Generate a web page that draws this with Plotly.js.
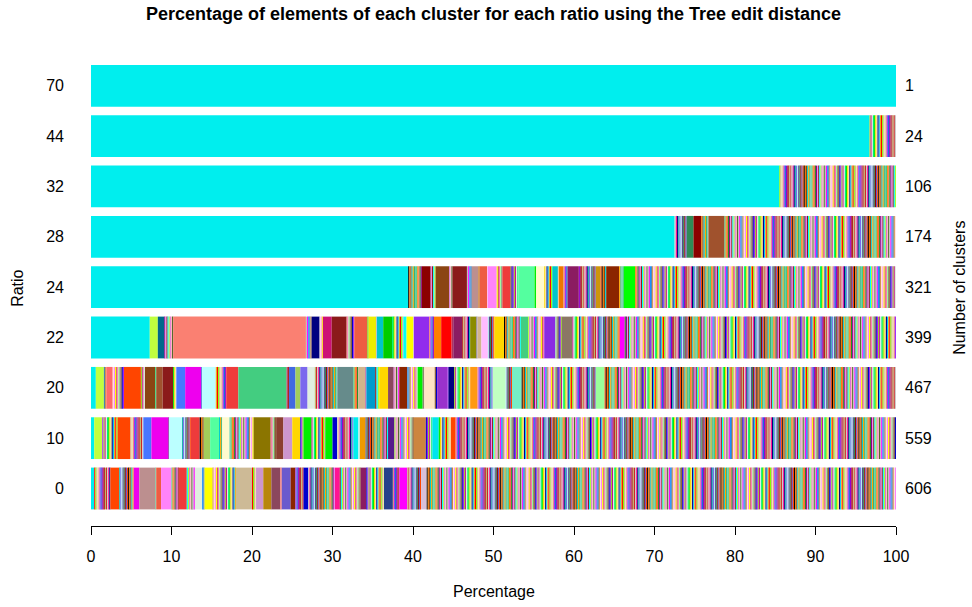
<!DOCTYPE html>
<html>
<head>
<meta charset="utf-8">
<script src="https://cdn.plot.ly/plotly-3.0.1.min.js"></script>
<style>html,body{margin:0;padding:0;background:#fff;}#chart{width:972px;height:607px;}</style>
</head>
<body>
<div id="chart"></div>
<script>
// ---------------- DATA ----------------
const ratios = ["0", "10", "20", "22", "24", "28", "32", "44", "70"];
const clusterCounts = [606, 559, 467, 399, 321, 174, 106, 24, 1];

// Large, readable clusters of each bar: [start %, end %]. The remaining clusters of a bar
// (clusterCounts minus these) are the thin slivers filling the gaps between them.
const big0 = [[0,0.4],[2.4,3.5],[5.3,6.0],[6.0,8.0],[8.1,8.7],[8.7,10.0],[10.9,11.9],[12.9,13.8],[14.1,15.1],[18.0,20.0],[20.5,21.4],[21.4,22.4],[22.4,23.5],[23.7,24.8],[24.8,25.4],[26.4,27.0],[30.3,30.9],[33.5,34.2],[36.4,37.5],[38.3,39.3],[41.0,41.7]];
const big10 = [[0,0.4],[0.4,1.4],[3.3,4.9],[6.5,7.5],[7.5,9.6],[9.7,11.3],[12.4,13.5],[14.0,14.8],[14.8,15.9],[16.3,17.2],[20.2,22.3],[23.0,23.9],[23.9,25.0],[25.0,26.0],[26.4,27.4],[29.1,30.0],[30.0,30.6],[32.6,33.2],[33.4,34.1],[36.9,37.7],[40.1,41.6],[42.4,43.2],[44.7,45.3]];
const big20 = [[0,0.6],[0.6,1.6],[1.9,2.7],[4.1,6.2],[6.7,8.0],[8.1,8.9],[8.9,10.2],[10.6,11.7],[11.7,13.7],[13.8,15.5],[16.8,18.3],[18.3,24.3],[24.6,25.4],[25.4,26.0],[26.0,26.9],[26.9,27.8],[30.6,32.6],[33.2,34.1],[34.2,35.3],[35.8,36.9],[36.9,37.6],[38.3,39.3],[40.6,41.2],[41.4,42.7],[43.0,44.3],[44.4,45.1],[47.1,48.0],[49.9,51.5],[52.3,53.5],[62.7,63.8]];
const big22 = [[0,7.3],[7.3,8.3],[8.3,9.1],[10.2,26.7],[27.4,28.4],[28.8,29.9],[29.9,31.7],[32.7,34.3],[34.5,35.4],[35.5,36.3],[36.3,37.4],[38.8,39.2],[39.2,40.0],[40.1,42.0],[42.6,43.5],[43.5,44.8],[45.0,46.1],[47.1,47.9],[48.0,48.5],[48.5,49.3],[50.1,51.3],[53.4,54.3],[56.3,57.7],[58.5,59.8],[65.7,66.3]];
const big24 = [[0,39.4],[41.1,42.2],[42.8,44.5],[44.9,46.7],[47.3,48.1],[48.3,49.2],[49.3,50.4],[51.1,52.1],[53.1,55.1],[55.3,56.3],[57.3,58.0],[58.1,58.7],[59.2,60.6],[62.7,63.3],[64.0,65.6],[66.2,67.6]];
const big28 = [[0,72.5],[74.0,74.8],[74.9,75.8],[76.7,78.7]];
const big32 = [[0,85.5]];
const big44 = [[0,96.7]];
const big70 = [[0,100]];
const bigByRow = [big0, big10, big20, big22, big24, big28, big32, big44, big70];

// ---------------- STYLE ----------------
const CY = "#00EEEE";
const col0 = [CY,"#FF4500","#EE00EE","#BC8F8F","#EE5C42","#FF83FA","#EE3B3B","#E0EEE0","#FFFF00","#CDBA96","#CD96CD","#B8860B","#8B475D","#6A5ACD","#8B2500","#0000CD","#FF1493","#8B1C62","#27408B","#FF00FF","#D8BFD8"];
const col10 = [CY,"#C0FF3E","#FF4500","#4876FF","#EE00EE","#BBFFFF","#EE3B3B","#A2CD5A","#54FF9F","#FFFACD","#8B7500","#8B3E2F","#CD96CD","#FFD700","#00EE00","#00EE00","#0000CD","#00EEEE","#EE9A00","#551A8B","#CD853F","#00E5EE","#FF4500"];
const col20 = [CY,"#C0FF3E","#FF6A6A","#FF4500","#8B4513","#A0522D","#8B1A1A","#4876FF","#EE00EE","#BBFFFF","#EE3B3B","#43CD80","#4169E1","#A2CD5A","#7B68EE","#E0EEE0","#668B8B","#D2B48C","#009ACD","#FFD700","#8B475D","#8B2500","#00EE00","#FFE4C4","#9932CC","#000080","#FF9912","#C1FFC1","#76EEC6","#9AFF9A"];
const col22 = [CY,"#C0FF3E","#00688B","#FA8072","#000080","#CD1076","#8B1A1A","#EE5C42","#EEEE00","#00C5CD","#00CD00","#00FFFF","#FFFF00","#912CEE","#FF7F00","#FF0000","#8B1C62","#8B8B00","#D2B48C","#FFBBFF","#FFD700","#43CD80","#8A2BE2","#8B7765","#FF00FF"];
const col24 = [CY,"#8B0000","#8B4513","#8B1A1A","#BC8F8F","#EE5C42","#FF83FA","#EE3B3B","#54FF9F","#FFFACD","#00C5CD","#EE7600","#8B1C62","#CD950C","#8B2500","#00FF00"];
const col28 = [CY,"#2E8B57","#8B0000","#A0522D"];
const col32 = [CY], col44 = [CY], col70 = [CY];
const colByRow = [col0, col10, col20, col22, col24, col28, col32, col44, col70];
const sliverPalette = ['#FF0000','#00EE00','#0000CD','#FFFF00','#FF00FF','#00FFFF','#FF7F00','#8B4513','#2E8B57','#FF1493','#9400D3','#7FFF00','#FFD700','#A020F0','#CD5C5C','#1E90FF','#ADFF2F','#FF6347','#00CED1','#8B0000','#000080','#B03060','#D2B48C','#F0E68C','#9ACD32','#FF69B4','#4682B4','#DA70D6','#228B22','#FFA500','#6A5ACD','#20B2AA','#B22222','#EEE8AA','#00008B','#C71585','#98FB98','#CD853F','#FFB6C1','#8B008B','#3CB371','#FF4500','#7B68EE','#BDB76B','#F08080','#00BFFF','#E0EEE0','#8B8970','#FFE4E1','#556B2F','#EE82EE','#66CDAA','#000000','#AFEEEE','#CD2626','#9B30FF','#EEAD0E','#00EE76','#8B5A2B','#FF83FA','#BEBEBE','#8B1A1A','#43CD80','#EE7600','#5D478B','#CDC9C9','#1874CD'];

// ---------------- BUILD SEGMENTS ----------------
const segY = [], segBase = [], segW = [], segC = [];
bigByRow.forEach((bigs, r) => {
  const cols = colByRow[r];
  const gaps = [];
  const order = [];
  let pos = 0;
  bigs.forEach((b, i) => {
    if (b[0] > pos + 1e-9) { gaps.push([pos, b[0]]); order.push({gap: gaps.length - 1}); }
    order.push({big: i});
    pos = b[1];
  });
  if (pos < 100 - 1e-9) { gaps.push([pos, 100]); order.push({gap: gaps.length - 1}); }
  const nSliver = clusterCounts[r] - bigs.length;
  const totalGap = gaps.reduce((s, g) => s + (g[1] - g[0]), 0);
  // share the slivers among gaps by gap width (largest remainder, at least 1 each)
  let counts = gaps.map(g => Math.max(1, Math.floor(nSliver * (g[1] - g[0]) / totalGap)));
  let left = nSliver - counts.reduce((a, b) => a + b, 0);
  const rema = gaps.map((g, i) => ({i, f: nSliver * (g[1] - g[0]) / totalGap - Math.floor(nSliver * (g[1] - g[0]) / totalGap)}))
                   .sort((a, b) => b.f - a.f);
  let k = 0;
  while (left > 0 && rema.length) { counts[rema[k % rema.length].i]++; left--; k++; }
  while (left < 0) { const m = counts.indexOf(Math.max(...counts)); counts[m]--; left++; }
  let sc = 0;
  order.forEach(o => {
    if (o.big !== undefined) {
      const b = bigs[o.big];
      segY.push(r); segBase.push(b[0]); segW.push(b[1] - b[0]); segC.push(cols[o.big]);
    } else {
      const g = gaps[o.gap], n = counts[o.gap], w = (g[1] - g[0]) / n;
      for (let j = 0; j < n; j++) {
        segY.push(r); segBase.push(g[0] + j * w); segW.push(w);
        segC.push(sliverPalette[(r * 13 + sc * 11) % sliverPalette.length]);
        sc++;
      }
    }
  });
});

const FONT = "Liberation Sans, Arial, Helvetica, sans-serif";
const trace = {
  type: "bar", orientation: "h",
  y: segY, x: segW, base: segBase,
  width: 0.83,
  marker: {color: segC, line: {width: 0}},
  hoverinfo: "skip", showlegend: false
};

const annotations = clusterCounts.map((c, r) => ({
  xref: "paper", yref: "y", x: 1.009, y: r, xanchor: "left", yanchor: "middle",
  text: String(c), showarrow: false, font: {family: FONT, size: 16, color: "#000"}
}));
annotations.push({xref: "paper", yref: "paper", x: 0.5, y: -0.1344, xanchor: "center", yanchor: "middle",
  text: "Percentage", showarrow: false, font: {family: FONT, size: 16, color: "#000"}});
annotations.push({xref: "paper", yref: "paper", x: -0.0907, y: 0.49, xanchor: "center", yanchor: "middle",
  text: "Ratio", textangle: -90, showarrow: false, font: {family: FONT, size: 16, color: "#000"}});
annotations.push({xref: "paper", yref: "paper", x: 1.0795, y: 0.49, xanchor: "center", yanchor: "middle",
  text: "Number of clusters", textangle: -90, showarrow: false, font: {family: FONT, size: 16, color: "#000"}});

const layout = {
  width: 972, height: 607,
  margin: {l: 91, r: 76, t: 40, b: 81, pad: 0},
  paper_bgcolor: "#fff", plot_bgcolor: "#fff",
  barmode: "overlay",
  font: {family: FONT, size: 16, color: "#000"},
  title: {text: "<b>Percentage of elements of each cluster for each ratio using the Tree edit distance</b>",
          font: {family: FONT, size: 18, color: "#000"},
          x: 0.5, xref: "paper", xanchor: "center", y: 1 - 14 / 607, yref: "container", yanchor: "middle"},
  xaxis: {range: [0, 100], tickvals: [0,10,20,30,40,50,60,70,80,90,100], ticktext: ["0","10","20","30","40","50","60","70","80","90","100"],
          ticks: "outside", ticklen: 8, tickwidth: 1, tickcolor: "#000",
          showline: true, linecolor: "#000", linewidth: 1, showgrid: false, zeroline: false,
          ticklabelstandoff: 8, tickfont: {family: FONT, size: 16, color: "#000"}, fixedrange: true},
  yaxis: {range: [-0.745, 8.91], tickvals: [0,1,2,3,4,5,6,7,8], ticktext: ratios,
          ticks: "", showline: false, showgrid: false, zeroline: false,
          ticklabelstandoff: 26, tickfont: {family: FONT, size: 16, color: "#000"}, fixedrange: true},
  annotations: annotations
};

Plotly.newPlot("chart", [trace], layout, {staticPlot: true, displayModeBar: false});
</script>
</body>
</html>
